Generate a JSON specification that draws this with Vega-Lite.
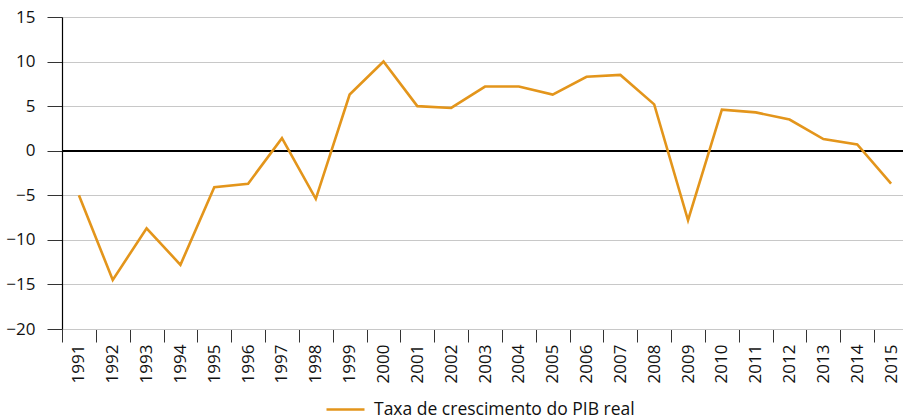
{
  "$schema": "https://vega.github.io/schema/vega-lite/v6.json",
  "width": 846,
  "height": 312,
  "autosize": "none",
  "padding": {"left": 62, "top": 17, "right": 0, "bottom": 91},
  "background": "white",
  "config": {
    "view": {"stroke": null},
    "font": "Open Sans",
    "axis": {"labelFont": "Open Sans", "labelColor": "#111111", "titleColor": "#111111"}
  },
  "data": {
    "values": [
      {"ano": "1991", "valor": -5.0, "serie": "Taxa de crescimento do PIB real"},
      {"ano": "1992", "valor": -14.5, "serie": "Taxa de crescimento do PIB real"},
      {"ano": "1993", "valor": -8.7, "serie": "Taxa de crescimento do PIB real"},
      {"ano": "1994", "valor": -12.8, "serie": "Taxa de crescimento do PIB real"},
      {"ano": "1995", "valor": -4.1, "serie": "Taxa de crescimento do PIB real"},
      {"ano": "1996", "valor": -3.7, "serie": "Taxa de crescimento do PIB real"},
      {"ano": "1997", "valor": 1.4, "serie": "Taxa de crescimento do PIB real"},
      {"ano": "1998", "valor": -5.4, "serie": "Taxa de crescimento do PIB real"},
      {"ano": "1999", "valor": 6.3, "serie": "Taxa de crescimento do PIB real"},
      {"ano": "2000", "valor": 10.0, "serie": "Taxa de crescimento do PIB real"},
      {"ano": "2001", "valor": 5.0, "serie": "Taxa de crescimento do PIB real"},
      {"ano": "2002", "valor": 4.8, "serie": "Taxa de crescimento do PIB real"},
      {"ano": "2003", "valor": 7.2, "serie": "Taxa de crescimento do PIB real"},
      {"ano": "2004", "valor": 7.2, "serie": "Taxa de crescimento do PIB real"},
      {"ano": "2005", "valor": 6.3, "serie": "Taxa de crescimento do PIB real"},
      {"ano": "2006", "valor": 8.3, "serie": "Taxa de crescimento do PIB real"},
      {"ano": "2007", "valor": 8.5, "serie": "Taxa de crescimento do PIB real"},
      {"ano": "2008", "valor": 5.2, "serie": "Taxa de crescimento do PIB real"},
      {"ano": "2009", "valor": -7.8, "serie": "Taxa de crescimento do PIB real"},
      {"ano": "2010", "valor": 4.6, "serie": "Taxa de crescimento do PIB real"},
      {"ano": "2011", "valor": 4.3, "serie": "Taxa de crescimento do PIB real"},
      {"ano": "2012", "valor": 3.5, "serie": "Taxa de crescimento do PIB real"},
      {"ano": "2013", "valor": 1.3, "serie": "Taxa de crescimento do PIB real"},
      {"ano": "2014", "valor": 0.7, "serie": "Taxa de crescimento do PIB real"},
      {"ano": "2015", "valor": -3.7, "serie": "Taxa de crescimento do PIB real"}
    ]
  },
  "layer": [
    {
      "mark": {"type": "rule", "color": "#000000", "strokeWidth": 1.2},
      "encoding": {
        "y": {"datum": 0, "type": "quantitative", "scale": {"domain": [-20, 15]}}
      }
    },
    {
      "mark": {"type": "line", "strokeWidth": 2.6, "strokeJoin": "miter"},
      "encoding": {
        "x": {
          "field": "ano",
          "type": "ordinal",
          "bandPosition": 0.5,
          "scale": {"type": "band", "paddingInner": 0, "paddingOuter": 0},
          "axis": {
            "title": null,
            "labelAngle": -90,
            "labelFontSize": 17,
            "labelPadding": 2,
            "tickBand": "extent",
            "tickSize": 13,
            "tickColor": "#333333",
            "tickWidth": 1,
            "domainColor": "#c8c8c8",
            "domainWidth": 1,
            "grid": false,
            "labelBaseline": "middle",
            "labelAlign": "right"
          }
        },
        "y": {
          "field": "valor",
          "type": "quantitative",
          "scale": {"domain": [-20, 15], "nice": false, "zero": false},
          "axis": {
            "title": null,
            "values": [-20, -15, -10, -5, 0, 5, 10, 15],
            "labelFontSize": 17,
            "labelPadding": 12,
            "tickSize": 15,
            "tickColor": "#333333",
            "tickWidth": 1,
            "domainColor": "#000000",
            "domainWidth": 1.2,
            "grid": true,
            "gridColor": "#c8c8c8",
            "gridWidth": 1
          }
        },
        "color": {
          "field": "serie",
          "type": "nominal",
          "scale": {"range": ["#E3951B"]},
          "legend": {
            "title": null,
            "orient": "none",
            "legendX": 263,
            "legendY": 372,
            "symbolType": "stroke",
            "symbolSize": 1444,
            "symbolStrokeWidth": 2.6,
            "labelFontSize": 17.5,
            "labelFont": "Open Sans",
            "labelColor": "#111111",
            "labelOffset": 8,
            "labelLimit": 400
          }
        }
      }
    }
  ]
}
